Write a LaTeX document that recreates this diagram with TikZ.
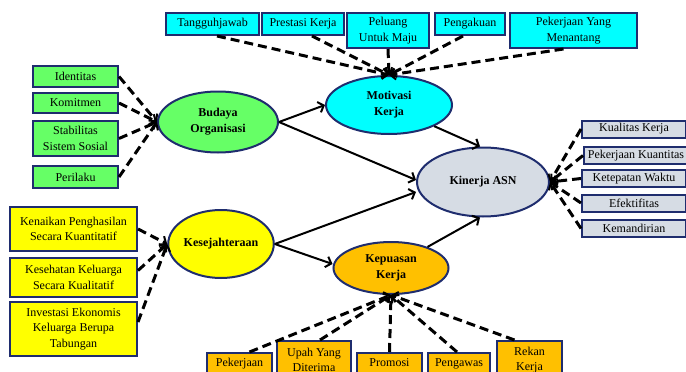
\documentclass[tikz,border=0pt]{standalone}
\usepackage{fontspec}
\setmainfont{Liberation Serif}
\usetikzlibrary{shapes.geometric,arrows.meta}
\definecolor{navy}{RGB}{31,45,110}
\definecolor{cyanC}{RGB}{0,255,255}
\definecolor{greenC}{RGB}{102,255,102}
\definecolor{yellowC}{RGB}{255,255,0}
\definecolor{orangeC}{RGB}{255,192,0}
\definecolor{grayC}{RGB}{214,220,228}
\tikzset{
  box/.style={draw=navy, line width=2pt, align=center, inner sep=0pt,
    font=\fontsize{12}{15.5}\selectfont},
  oval/.style={ellipse, draw=navy, line width=2pt, align=center, inner sep=0pt,
    font=\fontsize{12}{16}\selectfont\bfseries},
  dashcon/.style={line width=3pt, dash pattern=on 9pt off 5pt,
    -{Straight Barb[length=5pt,width=11pt,line width=2pt]}},
  solidcon/.style={line width=2pt, -{Straight Barb[length=5pt,width=11pt]}},
}
\begin{document}
\begin{tikzpicture}[x=1pt,y=-1pt]
\useasboundingbox (0,0) rectangle (686,372);
% ellipses
\node[oval, fill=cyanC, minimum width=126, minimum height=58] (mot) at (389,105) {Motivasi\\Kerja};
\node[oval, fill=grayC, minimum width=132, minimum height=69] (kin) at (483,182) {Kinerja ASN};
\node[oval, fill=greenC, minimum width=120, minimum height=61] (bud) at (218,122) {Budaya\\Organisasi};
\node[oval, fill=yellowC, minimum width=102, minimum height=68] (kes) at (221,244) {Kesejahteraan};
\node[oval, fill=orangeC, minimum width=115, minimum height=52] (kep) at (391,268) {Kepuasan\\Kerja};
% top boxes
\node[box, fill=cyanC, minimum width=93, minimum height=22] (t1) at (212.5,24) {Tangguhjawab};
\node[box, fill=cyanC, minimum width=82, minimum height=22] (t2) at (303,24) {Prestasi Kerja};
\node[box, fill=cyanC, minimum width=82, minimum height=35] (t3) at (388,30.5) {Peluang\\Untuk Maju};
\node[box, fill=cyanC, minimum width=70, minimum height=22] (t4) at (470,24) {Pengakuan};
\node[box, fill=cyanC, minimum width=127, minimum height=35] (t5) at (573.5,30.5) {Pekerjaan Yang\\Menantang};
% green boxes
\node[box, fill=greenC, minimum width=85, minimum height=21] (g1) at (75.5,76.5) {Identitas};
\node[box, fill=greenC, minimum width=85, minimum height=20] (g2) at (75.5,103) {Komitmen};
\node[box, fill=greenC, minimum width=85, minimum height=35] (g3) at (75.5,138.5) {Stabilitas\\Sistem Sosial};
\node[box, fill=greenC, minimum width=85, minimum height=22] (g4) at (75.5,177) {Perilaku};
% yellow boxes
\node[box, fill=yellowC, minimum width=127, minimum height=44] (y1) at (73.5,229) {Kenaikan Penghasilan\\Secara Kuantitatif};
\node[box, fill=yellowC, minimum width=127, minimum height=39] (y2) at (73.5,277.5) {Kesehatan Keluarga\\Secara Kualitatif};
\node[box, fill=yellowC, minimum width=127, minimum height=54] (y3) at (73.5,329) {Investasi Ekonomis\\Keluarga Berupa\\Tabungan};
% right boxes
\node[box, fill=grayC, minimum width=104, minimum height=17] (r1) at (634,129) {Kualitas Kerja};
\node[box, fill=grayC, minimum width=104, minimum height=17] (r2) at (636,155.5) {Pekerjaan Kuantitas};
\node[box, fill=grayC, minimum width=104, minimum height=17] (r3) at (634,178.5) {Ketepatan Waktu};
\node[box, fill=grayC, minimum width=104, minimum height=17] (r4) at (634,203) {Efektifitas};
\node[box, fill=grayC, minimum width=104, minimum height=17] (r5) at (634,228.5) {Kemandirian};
% bottom boxes
\node[box, fill=orangeC, minimum width=65, text height=13pt, text depth=15pt, anchor=north] (b1) at (239.5,352) {Pekerjaan};
\node[box, fill=orangeC, minimum width=74, minimum height=38] (b2) at (314,360) {Upah Yang\\Diterima};
\node[box, fill=orangeC, minimum width=65, text height=13pt, text depth=15pt, anchor=north] (b3) at (389.5,352) {Promosi};
\node[box, fill=orangeC, minimum width=62, text height=13pt, text depth=15pt, anchor=north] (b4) at (459,352) {Pengawas};
\node[box, fill=orangeC, minimum width=65, minimum height=38] (b5) at (529.5,360) {Rekan\\Kerja};
% dashed connectors: top
\draw[dashcon] ([xshift=4.5pt]t1.south) -- (mot.north);
\draw[dashcon] ([xshift=9pt]t2.south) -- (mot.north);
\draw[dashcon] (t3.south) -- (mot.north);
\draw[dashcon] ([xshift=-7pt]t4.south) -- (mot.north);
\draw[dashcon] ([xshift=-10pt]t5.south) -- (mot.north);
% green
\draw[dashcon] (g1.east) -- (bud.west);
\draw[dashcon] (g2.east) -- (bud.west);
\draw[dashcon] (g3.east) -- (bud.west);
\draw[dashcon] (g4.east) -- (bud.west);
% yellow
\draw[dashcon] (y1.east) -- (kes.west);
\draw[dashcon] ([yshift=7pt]y2.east) -- (kes.west);
\draw[dashcon] ([yshift=7pt]y3.east) -- (kes.west);
% right
\draw[dashcon] (r1.west) -- (kin.east);
\draw[dashcon] (r2.west) -- (kin.east);
\draw[dashcon] (r3.west) -- (kin.east);
\draw[dashcon] (r4.west) -- (kin.east);
\draw[dashcon] (r5.west) -- (kin.east);
% bottom
\draw[dashcon] ([xshift=10pt]b1.north) -- (kep.south);
\draw[dashcon] ([xshift=6pt]b2.north) -- (kep.south);
\draw[dashcon] (b3.north) -- (kep.south);
\draw[dashcon] ([xshift=-2pt]b4.north) -- (kep.south);
\draw[dashcon] ([xshift=-15pt]b5.north) -- (kep.south);
% solid arrows
\draw[solidcon] (bud.east) -- (mot.west);
\draw[solidcon] (bud.east) -- ([yshift=2pt]kin.west);
\draw[solidcon] (mot.south east) -- ([xshift=-3pt]kin.north);
\draw[solidcon] (kes.east) -- ([yshift=-10pt]kin.west);
\draw[solidcon] (kes.east) -- ([yshift=4pt]kep.west);
\draw[solidcon] (kep.30) -- ([xshift=-3pt]kin.south);
\end{tikzpicture}
\end{document}
